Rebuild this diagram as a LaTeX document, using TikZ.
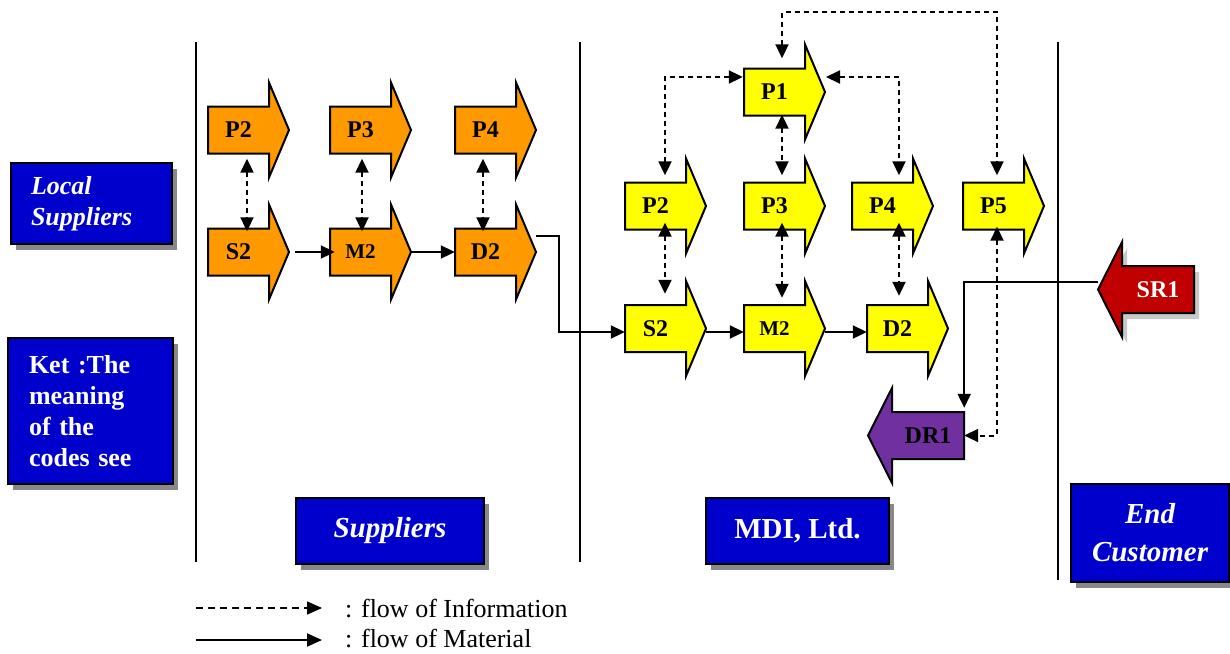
\documentclass[tikz,border=0pt]{standalone}
\usepackage{fontspec}
\setmainfont{Liberation Serif}
\usetikzlibrary{arrows.meta,calc,shadows}
\definecolor{orng}{HTML}{FF9900}
\definecolor{yell}{HTML}{FFFF00}
\definecolor{bluebox}{HTML}{0000CC}
\definecolor{redarr}{HTML}{C00000}
\definecolor{purparr}{HTML}{7030A0}
\definecolor{shad}{HTML}{888888}
\definecolor{lshad}{HTML}{C8C8C8}
\tikzset{
  outl/.style={draw=black, line width=2pt, line join=miter},
  lbl/.style={font=\fontsize{24}{28}\selectfont\bfseries, inner sep=0pt, minimum width=61pt, minimum height=47pt},
  lbll/.style={lbl, minimum width=72pt},
  tipA/.tip={Triangle[length=14pt,width=13pt]},
  info/.style={line width=2pt, dash pattern=on 5pt off 4pt, tipA-tipA},
  mat/.style={line width=2pt, -tipA},
  divider/.style={line width=2pt},
  shd/.style={drop shadow={shadow xshift=5pt, shadow yshift=-6pt, fill=shad, opacity=1}},
  lshd/.style={drop shadow={shadow xshift=5pt, shadow yshift=-6pt, fill=lshad, opacity=1}},
  bluebx/.style={fill=bluebox, draw=black, line width=2pt, text=white, shd,
    font=\fontsize{26}{31}\selectfont\bfseries, inner sep=0pt},
  bigbx/.style={bluebx, font=\fontsize{29}{38}\selectfont\bfseries},
  legtxt/.style={font=\fontsize{26}{30}\selectfont, anchor=base west, inner sep=0pt},
}
% right-pointing process arrow: name, body left x, centre y, label, style
\newcommand{\procR}[5]{%
  \filldraw[outl, #5] ({#2},{#3-23.5}) -- ({#2+61},{#3-23.5}) -- ({#2+61},{#3-47.5})
    -- ({#2+81},{#3}) -- ({#2+61},{#3+47.5}) -- ({#2+61},{#3+23.5}) -- ({#2},{#3+23.5}) -- cycle;
  \node[lbl] (#1) at ({#2+30.5},{#3}) {#4};
  \coordinate (#1-tip) at ({#2+81},{#3});
}
% left-pointing arrow: name, body right x, centre y, label, style
\newcommand{\procL}[5]{%
  \filldraw[outl, #5] ({#2},{#3-23.5}) -- ({#2-72},{#3-23.5}) -- ({#2-72},{#3-47.5})
    -- ({#2-96},{#3}) -- ({#2-72},{#3+47.5}) -- ({#2-72},{#3+23.5}) -- ({#2},{#3+23.5}) -- cycle;
  \node[lbll] (#1) at ({#2-36},{#3}) {#4};
  \coordinate (#1-tip) at ({#2-96},{#3});
}
\begin{document}
\begin{tikzpicture}[x=1pt, y=-1pt]
\useasboundingbox[fill=white] (0,0) rectangle (1230,653);

% dividers
\draw[divider] (196,42) -- (196,562);
\draw[divider] (580,42) -- (580,562);
\draw[divider] (1058,42) -- (1058,580);

% blue boxes
\node[bluebx, anchor=north west, minimum height=81pt, text width=121pt, inner xsep=20pt, align=left]
  (local) at (10,162) {\itshape Local\\Suppliers};
\node[bluebx, anchor=north west, minimum height=146pt, text width=123pt, inner xsep=21pt, align=left]
  (ket) at (7,337) {Ket :The\\meaning\\of the\\codes see};
\node[bigbx, anchor=north west, minimum width=188pt, minimum height=66pt, align=center]
  (supp) at (295,497) {\itshape Suppliers};
\node[bigbx, anchor=north west, minimum width=183pt, minimum height=66pt, align=center]
  (mdi) at (705,497) {MDI, Ltd.};
\node[bigbx, anchor=north west, minimum height=98pt, text width=158pt, align=center]
  (endc) at (1070,483) {\itshape End\\Customer};

% supplier arrows
\procR{oP2}{208}{130}{P2}{fill=orng}
\procR{oP3}{330}{130}{P3}{fill=orng}
\procR{oP4}{455}{130}{P4}{fill=orng}
\procR{oS2}{208}{252}{S2}{fill=orng}
\procR{oM2}{330}{252}{\fontsize{21}{24}\selectfont M2}{fill=orng}
\procR{oD2}{455}{252}{D2}{fill=orng}

% MDI arrows
\procR{yP1}{744}{92}{P1}{fill=yell}
\procR{yP2}{625}{206}{P2}{fill=yell}
\procR{yP3}{744}{206}{P3}{fill=yell}
\procR{yP4}{852}{206}{P4}{fill=yell}
\procR{yP5}{963}{206}{P5}{fill=yell}
\procR{yS2}{625}{328.5}{S2}{fill=yell}
\procR{yM2}{744}{328.5}{\fontsize{21}{24}\selectfont M2}{fill=yell}
\procR{yD2}{867}{328.5}{D2}{fill=yell}

% return arrows
\procL{SR1}{1194}{289.5}{\textcolor{white}{SR1}}{fill=redarr, lshd}
\procL{DR1}{964}{435.5}{DR1}{fill=purparr}

% supplier information flows
\draw[info, shorten <=5pt, shorten >=-3pt] ([xshift=8.5pt]oP2.south) -- ([xshift=8.5pt]oS2.north);
\draw[info, shorten <=5pt, shorten >=-3pt] ([xshift=1.5pt]oP3.south) -- ([xshift=1.5pt]oM2.north);
\draw[info, shorten <=5pt, shorten >=-3pt] ([xshift=-2.5pt]oP4.south) -- ([xshift=-2.5pt]oD2.north);

% supplier material flows
\draw[mat] ([xshift=6pt]oS2-tip) -- ([xshift=5pt]oM2.west);
\draw[mat] (oM2-tip) -- (oD2.west);
\draw[mat] ([yshift=16pt]oD2-tip) -- ++(23,0) |- ([yshift=-3.5pt]yS2.west);

% MDI material flows
\draw[mat] ([yshift=-3.5pt]yS2-tip) -- ([yshift=-3.5pt]yM2.west);
\draw[mat] ([yshift=-3.5pt]yM2-tip) -- ([yshift=-3.5pt]yD2.west);

% MDI information flows
\draw[info, shorten <=10pt, shorten >=7pt] ([xshift=7.5pt]yP1.north) -- ++(0,-56) -| ([xshift=3.5pt]yP5.north);
\draw[info, shorten <=1pt, shorten >=7pt] ([yshift=15pt]yP1.west) -| ([xshift=9.5pt]yP2.north);
\draw[info, shorten <=1pt, shorten >=7pt] ([yshift=15pt]yP1-tip) -| ([xshift=16.5pt]yP4.north);
\draw[info, shorten <=-1pt, shorten >=7pt] ([xshift=7.5pt]yP1.south) -- ([xshift=7.5pt]yP3.north);
\draw[info, shorten <=-7pt, shorten >=11pt] ([xshift=9.5pt]yP2.south) -- ([xshift=9.5pt]yS2.north);
\draw[info, shorten <=-7pt, shorten >=7pt] ([xshift=7.5pt]yP3.south) -- ([xshift=7.5pt]yM2.north);
\draw[info, shorten <=-7pt, shorten >=9pt] ([xshift=16.5pt]yP4.south) -- ([xshift=16.5pt]yP4.south |- yD2.north);
\draw[info, shorten <=-3pt] ([xshift=3.5pt]yP5.south) |- (DR1.east);

% return material flow
\draw[mat, shorten >=4pt] ([yshift=8pt]SR1-tip) -| (DR1.north east);

% legend
\coordinate (li1) at (196,608);
\coordinate (li2) at (322,608);
\coordinate (lm1) at (196,640);
\coordinate (lm2) at (322,640);
\draw[line width=1.5pt, dash pattern=on 7pt off 5pt, -{Triangle[length=15pt,width=13pt]}] (li1) -- (li2);
\draw[line width=2pt, -{Triangle[length=15pt,width=13pt]}] (lm1) -- (lm2);
\node[legtxt] (leginfo) at (345,617) {: flow of Information};
\node[legtxt] (legmat) at (345,647) {: flow of Material};
\end{tikzpicture}
\end{document}
